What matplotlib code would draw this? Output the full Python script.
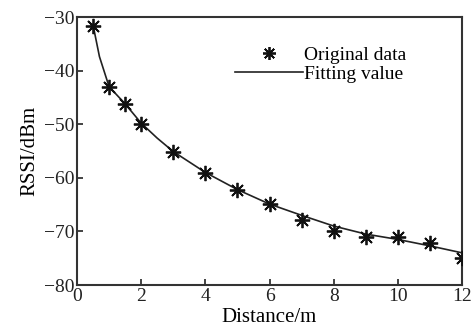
import matplotlib
matplotlib.use("Agg")
import matplotlib.pyplot as plt

plt.rcParams['font.family'] = ['Liberation Serif', 'DejaVu Serif']

# Original measured data
dist = [0.5, 1, 1.5, 2, 3, 4, 5, 6, 7, 8, 9, 10, 11, 12]
rssi = [-31.7, -43.0, -46.2, -49.9, -55.2, -59.1, -62.3, -64.9, -67.9, -70.0, -71.0, -71.1, -72.1, -75.0]

# Fitted curve
fit_x = [0.5, 0.7, 1, 1.5, 2, 2.5, 3, 4, 5, 6, 7, 8, 9, 10, 11, 12]
fit_y = [-31.5, -37.4, -43.0, -46.2, -49.8, -52.6, -55.1, -59.0, -62.2, -64.9, -67.0, -69.0, -70.5, -71.5, -72.7, -74.0]

xticks = [0, 2, 4, 6, 8, 10, 12]
yticks = [-80, -70, -60, -50, -40, -30]

fig = plt.figure(figsize=(4.72, 3.29), dpi=100)
ax = fig.add_axes([77/472, 1 - 285/329, (462-77)/472, (285-17)/329])

ax.plot(fit_x, fit_y, color='#222222', lw=1.2, label='Fitting value', zorder=2)
ax.plot(dist, rssi, linestyle='none', marker=(8, 2, 0), markersize=11,
        markeredgewidth=1.3, color='#111111', label='Original data', zorder=3)

ax.set_xlim(0, 12)
ax.set_ylim(-80, -30)
ax.set_xticks(xticks)
ax.set_yticks(yticks)
ax.set_yticklabels(['\u221280', '\u221270', '\u221260', '\u221250', '\u221240', '\u221230'])
ax.tick_params(direction='in', length=4, width=1.2, labelsize=14, colors='#222222', pad=2)
for s in ax.spines.values():
    s.set_linewidth(1.5)
    s.set_color('#333333')

ax.set_xlabel('Distance/m', fontsize=15, labelpad=2)
ax.set_ylabel('RSSI/dBm', fontsize=15, labelpad=3)

h, l = ax.get_legend_handles_labels()
leg = ax.legend([h[1], h[0]], [l[1], l[0]], frameon=False, loc='upper left',
                bbox_to_anchor=(0.41, 0.89), fontsize=14, handlelength=3.5,
                handletextpad=0.05, labelspacing=0.07, borderaxespad=0,
                borderpad=0, markerscale=0.85)

fig.savefig('out.png', dpi=100)
